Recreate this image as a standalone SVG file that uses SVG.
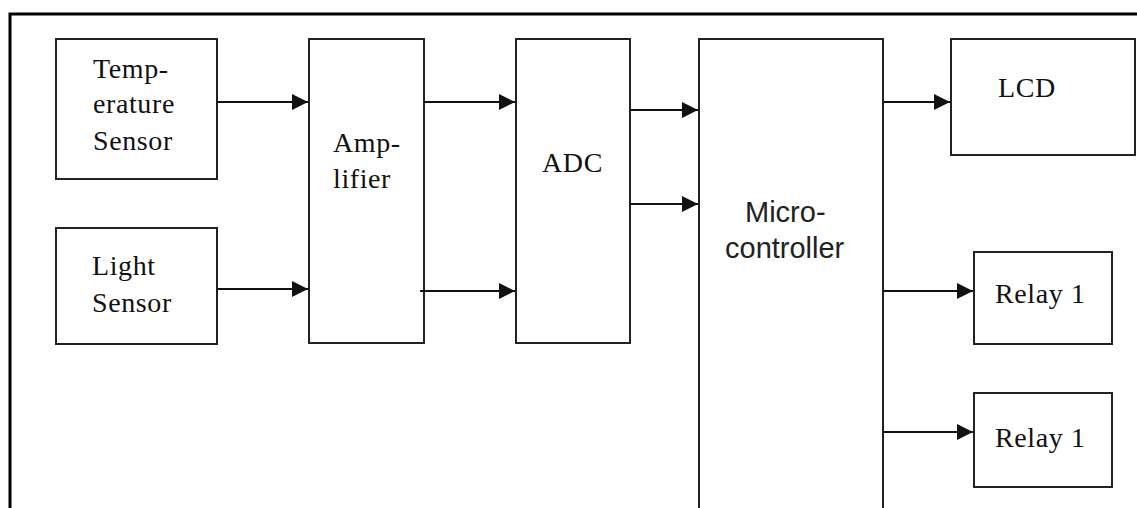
<svg xmlns="http://www.w3.org/2000/svg" width="1137" height="508" viewBox="0 0 1137 508">
<defs>
<style>
.box{fill:#fff;stroke:#222;stroke-width:2}
.serif{font-family:"Liberation Serif","Times New Roman",serif;font-size:28px;letter-spacing:0.6px;fill:#111}
.sans{font-family:"Liberation Sans",Arial,sans-serif;font-size:29px;fill:#222}
.conn line{stroke:#111;stroke-width:2;marker-end:url(#arrow)}
</style>
<marker id="arrow" markerUnits="userSpaceOnUse" markerWidth="17" markerHeight="16" refX="16" refY="8" orient="auto">
<path d="M0,0 L16,8 L0,16 z" fill="#111"/>
</marker>
</defs>
<rect width="1137" height="508" fill="#fff"/>
<path d="M10,508 V14 H1137" fill="none" stroke="#000" stroke-width="3"/>
<g id="temp-sensor">
<rect class="box" x="56" y="39" width="161" height="140"/>
<text class="serif" x="93" y="78">Temp-</text>
<text class="serif" x="93" y="113">erature</text>
<text class="serif" x="93" y="150">Sensor</text>
</g>
<g id="light-sensor">
<rect class="box" x="56" y="228" width="161" height="116"/>
<text class="serif" x="92" y="275">Light</text>
<text class="serif" x="92" y="312">Sensor</text>
</g>
<g id="amplifier">
<rect class="box" x="309" y="39" width="115" height="304"/>
<text class="serif" x="333" y="152">Amp-</text>
<text class="serif" x="333" y="188">lifier</text>
</g>
<g id="adc">
<rect class="box" x="516" y="39" width="114" height="304"/>
<text class="serif" x="542" y="172">ADC</text>
</g>
<g id="microcontroller">
<rect class="box" x="699" y="39" width="184" height="490"/>
<text class="sans" x="745" y="222">Micro-</text>
<text class="sans" x="725" y="258">controller</text>
</g>
<g id="lcd">
<rect class="box" x="951" y="39" width="184" height="116"/>
<text class="serif" x="998" y="97">LCD</text>
</g>
<g id="relay1a">
<rect class="box" x="974" y="252" width="138" height="92"/>
<text class="serif" x="995" y="303">Relay 1</text>
</g>
<g id="relay1b">
<rect class="box" x="974" y="393" width="138" height="94"/>
<text class="serif" x="995" y="447">Relay 1</text>
</g>
<g id="connectors" class="conn">
<line x1="217" y1="102" x2="308" y2="102"/>
<line x1="217" y1="289" x2="308" y2="289"/>
<line x1="424" y1="102" x2="515" y2="102"/>
<line x1="420" y1="291" x2="515" y2="291"/>
<line x1="630" y1="110" x2="698" y2="110"/>
<line x1="630" y1="204" x2="698" y2="204"/>
<line x1="883" y1="102" x2="950" y2="102"/>
<line x1="883" y1="291" x2="973" y2="291"/>
<line x1="883" y1="432" x2="973" y2="432"/>
</g>
</svg>
